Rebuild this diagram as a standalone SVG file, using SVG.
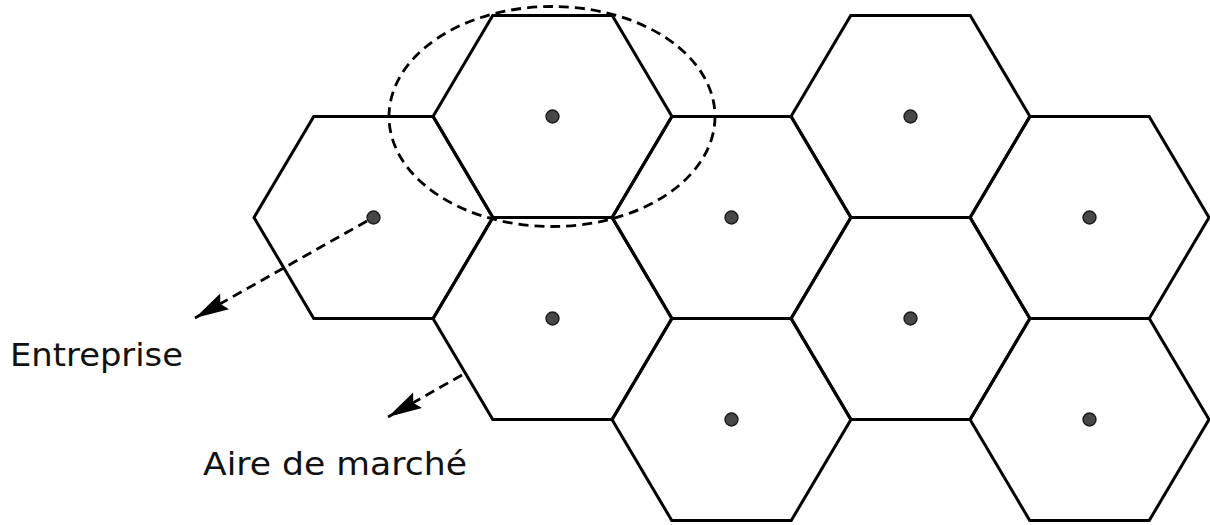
<svg xmlns="http://www.w3.org/2000/svg" width="1210" height="525" viewBox="0 0 1210 525">
<style>
.hex{fill:none;stroke:#000;stroke-width:3;stroke-linejoin:miter}
.dot{fill:#474747;stroke:#1a1a1a;stroke-width:1.4}
.dash{fill:none;stroke:#000;stroke-width:2.8;stroke-dasharray:10 6}
.lbl{font-family:"DejaVu Sans","Liberation Sans",sans-serif;font-size:32px;fill:#111}
</style>
<defs>
<polygon id="hx" class="hex" points="-119.5,0 -59.75,-101 59.75,-101 119.5,0 59.75,101 -59.75,101"/>
<marker id="ah" markerUnits="userSpaceOnUse" markerWidth="40" markerHeight="24" viewBox="-36 -12 40 24" refX="0" refY="0" orient="auto">
<path d="M0,0 L-34,-9 L-29,0 L-34,9 Z" fill="#000"/>
</marker>
</defs>
<g id="cell-0" transform="translate(373.5,217.5)"><use href="#hx"/><circle class="dot" r="6.5"/></g>
<g id="cell-1a" transform="translate(552.5,116.5)"><use href="#hx"/><circle class="dot" r="6.5"/></g>
<g id="cell-1b" transform="translate(552.5,318.5)"><use href="#hx"/><circle class="dot" r="6.5"/></g>
<g id="cell-2a" transform="translate(731.5,217.5)"><use href="#hx"/><circle class="dot" r="6.5"/></g>
<g id="cell-2b" transform="translate(731.5,419.5)"><use href="#hx"/><circle class="dot" r="6.5"/></g>
<g id="cell-3a" transform="translate(910.5,116.5)"><use href="#hx"/><circle class="dot" r="6.5"/></g>
<g id="cell-3b" transform="translate(910.5,318.5)"><use href="#hx"/><circle class="dot" r="6.5"/></g>
<g id="cell-4a" transform="translate(1089.5,217.5)"><use href="#hx"/><circle class="dot" r="6.5"/></g>
<g id="cell-4b" transform="translate(1089.5,419.5)"><use href="#hx"/><circle class="dot" r="6.5"/></g>
<g id="market-area"><ellipse class="dash" cx="552" cy="116.5" rx="163" ry="110"/></g>
<g id="connectors">
<line class="dash" x1="367" y1="221" x2="195" y2="318" marker-end="url(#ah)"/>
<line class="dash" x1="462" y1="375" x2="388" y2="417" marker-end="url(#ah)"/>
</g>
<g id="labels">
<text class="lbl" x="10" y="366" textLength="173" lengthAdjust="spacingAndGlyphs">Entreprise</text>
<text class="lbl" x="203" y="475" textLength="264" lengthAdjust="spacingAndGlyphs">Aire de marché</text>
</g>
</svg>
